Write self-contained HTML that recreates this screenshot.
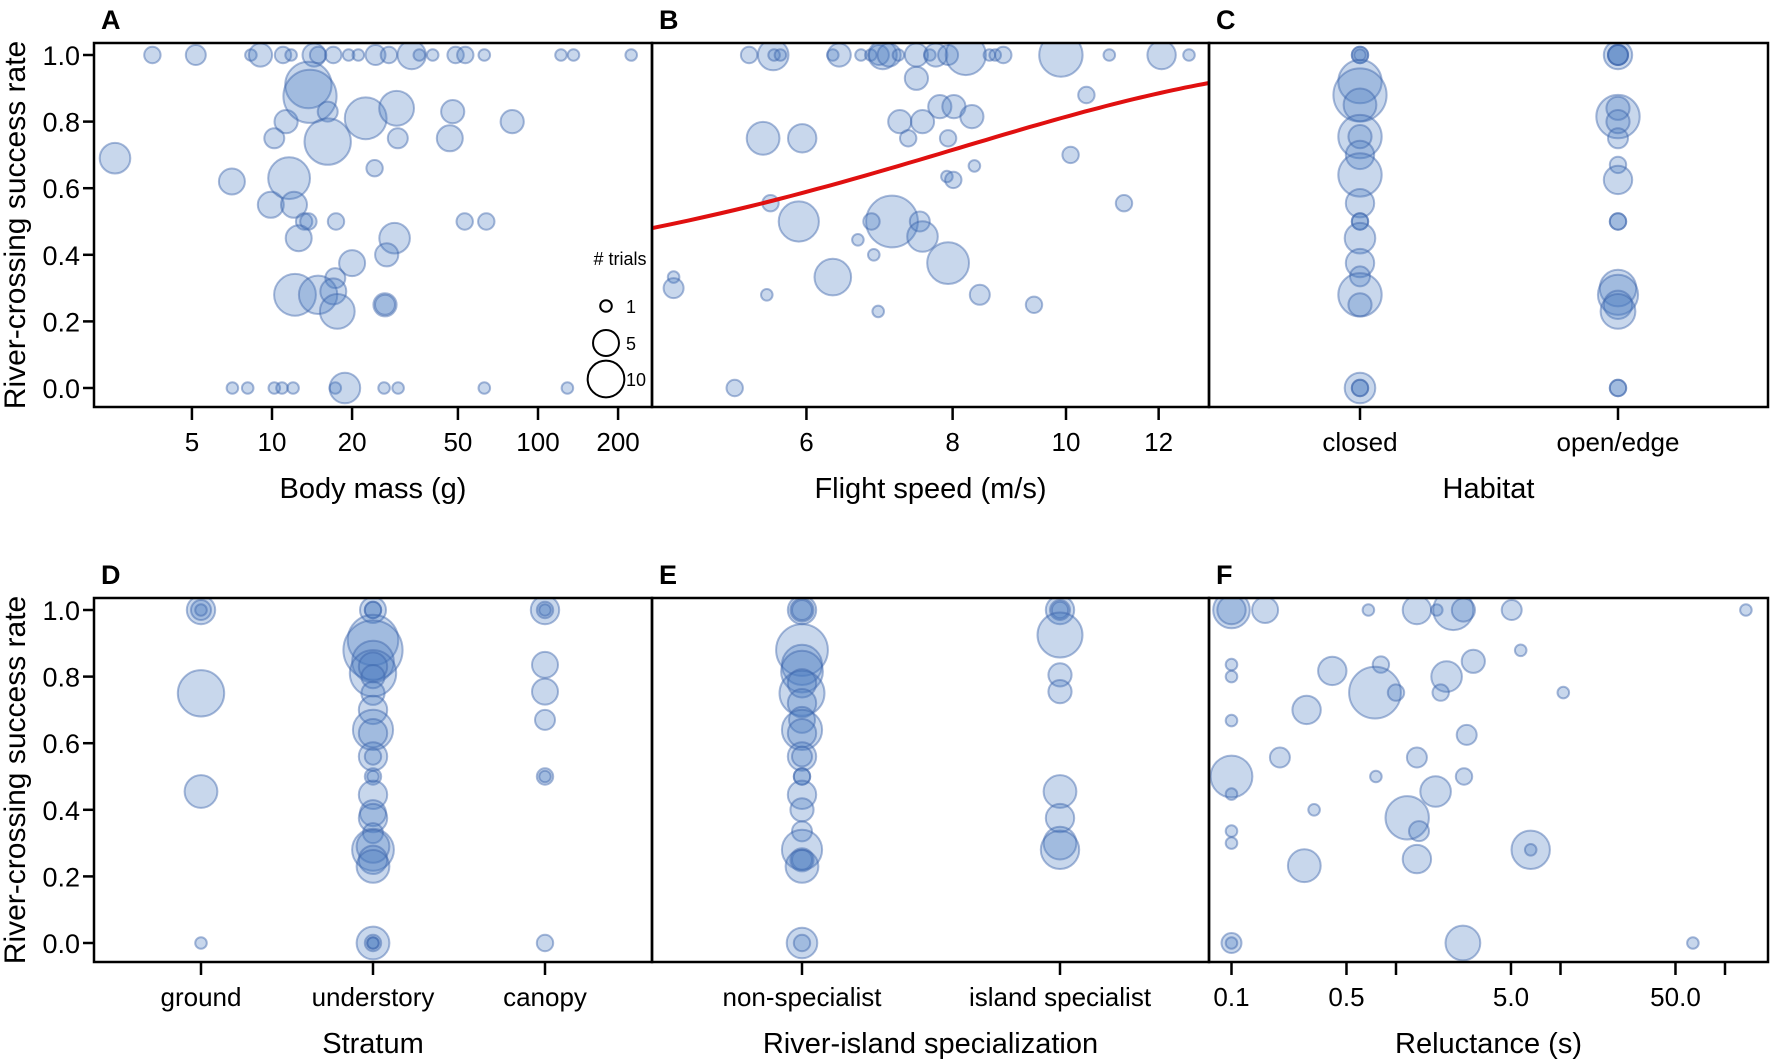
<!DOCTYPE html>
<html><head><meta charset="utf-8">
<style>
html,body{margin:0;padding:0;background:#fff;}
svg{display:block;font-family:"Liberation Sans",Arial,sans-serif;}
</style></head>
<body>
<svg id="chart" width="1772" height="1060" viewBox="0 0 1772 1060" xmlns="http://www.w3.org/2000/svg"></svg>
<script>
// ---------- data ----------
const yTicks = [0, 0.2, 0.4, 0.6, 0.8, 1.0];
const yTickLabels = ["0.0","0.2","0.4","0.6","0.8","1.0"];

// Panel A: body mass (g)
const aMass = [3.55,5.17,8.33,9.05,11.0,11.8,14.4,14.9,17.0,19.4,21.1,24.5,27.5,33.5,35.8,40.2,49,53.3,62.8,122,136,224,
  2.57,7.07,9.9,11.6,12.1,11.3,10.2,13.7,13.9,16.2,16.2,22.5,29.4,29.7,24.3,47.8,46.6,80,
  13.2,13.7,17.4,53,63.9,12.6,28.9,27,20,17.3,12.2,14.9,17,17.6,26.6,26.6,
  7.1,8.1,10.2,10.9,12,17.3,18.8,26.4,29.8,62.8,129];
const aRate = [1,1,1,1,1,1,1,1,1,1,1,1,1,1,1,1,1,1,1,1,1,1,
  0.69,0.62,0.55,0.63,0.55,0.80,0.75,0.91,0.876,0.83,0.74,0.81,0.84,0.75,0.66,0.83,0.75,0.80,
  0.5,0.5,0.5,0.5,0.5,0.45,0.45,0.4,0.375,0.33,0.28,0.28,0.29,0.23,0.25,0.25,
  0,0,0,0,0,0,0,0,0,0,0];
const aTrials = [2,3,1,4,2,1,4,2,2,1,1,3,2,6,1,1,2,2,1,1,1,1,
  7,5,5,13,5,4,3,16,21,3,16,13,9,3,2,4,5,4,
  2,2,2,2,2,5,7,4,5,3,13,11,5,9,4,3,
  1,1,1,1,1,1,7,1,1,1,1];

// Panel B: flight speed (m/s)
const bSpeed = [5.36,5.62,5.63,5.70,6.32,6.40,6.68,6.81,6.92,6.97,7.06,7.19,7.45,7.65,7.74,7.93,8.21,8.60,8.70,8.84,9.90,10.89,12.07,12.74,
  7.45,10.41,7.80,8.02,8.31,7.21,7.54,7.33,7.93,5.51,5.95,10.09,8.35,7.91,8.01,5.59,11.21,5.91,7.10,6.82,7.50,7.54,6.64,6.85,7.93,4.62,4.62,6.32,5.55,8.44,9.39,6.91,5.21];
const bRate = [1,1,1,1,1,1,1,1,1,1,1,1,1,1,1,1,1,1,1,1,1,1,1,1,
  0.93,0.88,0.845,0.845,0.815,0.80,0.80,0.75,0.75,0.75,0.75,0.70,0.667,0.635,0.625,0.555,0.555,0.50,0.50,0.50,0.50,0.455,0.445,0.40,0.375,0.333,0.30,0.333,0.28,0.28,0.25,0.23,0];
const bTrials = [2,7,1,1,1,4,1,1,3,6,4,1,4,1,4,3,12,1,1,2,14,1,6,1,
  4,2,4,4,4,4,4,2,2,8,6,2,1,1,2,2,2,12,20,2,3,7,1,1,13,1,3,10,1,3,2,1,2];

// Panel C: habitat
const cCats = ["closed","open/edge"];
const cCat = [0,0,0,0,0,0,0,0,0,0,0,0,0,0,0,0,0,0,0,0,0,
  1,1,1,1,1,1,1,1,1,1,1,1,1,1,1,1,1,1];
const cRate = [1,1,1,0.92,0.88,0.85,0.755,0.755,0.70,0.64,0.555,0.5,0.5,0.45,0.375,0.335,0.28,0.25,0,0,0,
  1,1,1,1,0.815,0.84,0.80,0.75,0.67,0.625,0.5,0.5,0.30,0.28,0.25,0.23,0,0];
const cTrials = [2,2,1,14,21,8,14,4,6,14,6,2,2,7,6,3,14,4,7,2,2,
  6,3,3,3,14,4,4,3,2,6,2,2,10,12,6,9,2,2];

// Panel D: stratum
const dCats = ["ground","understory","canopy"];
const dCat = [0,0,0,0,0,0,
  1,1,1,1,1,1,1,1,1,1,1,1,1,1,1,1,1,1,1,1,1,1,1,1,1,1,1,1,1,
  2,2,2,2,2,2,2,2,2];
const dRate = [1,1,1,0.75,0.455,0,
  1,1,1,0.91,0.88,0.845,0.81,0.83,0.80,0.75,0.70,0.64,0.63,0.56,0.56,0.5,0.5,0.445,0.39,0.375,0.33,0.28,0.29,0.25,0.23,0,0,0,0,
  1,1,1,0.835,0.755,0.67,0.5,0.5,0];
const dTrials = [6,3,1,16,8,1,
  5,2,2,19,26,13,16,6,4,4,6,12,6,6,2,2,1,6,5,6,3,13,8,6,8,8,2,1,1,
  6,2,1,5,5,3,2,1,2];

// Panel E: river-island specialization
const eCats = ["non-specialist","island specialist"];
const eCat = [0,0,0,0,0,0,0,0,0,0,0,0,0,0,0,0,0,0,0,0,0,0,0,0,0,
  1,1,1,1,1,1,1,1,1,1];
const eRate = [1,1,1,0.88,0.835,0.815,0.75,0.78,0.72,0.67,0.64,0.63,0.56,0.56,0.5,0.5,0.445,0.40,0.335,0.28,0.25,0.25,0.23,0,0,
  1,1,1,0.925,0.805,0.755,0.455,0.375,0.30,0.28];
const eTrials = [6,4,3,20,12,13,15,6,6,5,12,6,6,3,2,2,6,4,3,12,4,3,8,7,2,
  6,3,2,15,4,4,8,6,8,11];

// Panel F: reluctance (s)
const fRel = [0.1,0.1,0.16,0.68,1.34,1.77,2.23,2.57,5.05,134,
  0.1,0.1,0.41,0.81,0.745,1.0,2.03,1.87,2.95,5.73,10.4,0.286,0.1,2.69,0.1,0.1,0.197,0.755,1.34,2.59,1.74,0.318,1.17,1.38,0.1,0.1,6.59,6.59,1.34,0.277,
  0.1,0.1,2.55,63.8];
const fRate = [1,1,1,1,1,1,1,1,1,1,
  0.836,0.80,0.817,0.836,0.752,0.752,0.80,0.752,0.846,0.879,0.752,0.70,0.668,0.625,0.50,0.447,0.557,0.50,0.557,0.50,0.455,0.40,0.376,0.336,0.336,0.30,0.28,0.28,0.252,0.232,
  0,0,0,0];
const fTrials = [10,6,5,1,6,1,12,4,3,1,
  1,1,6,2,20,2,7,2,4,1,1,6,1,3,13,1,3,1,3,2,7,1,14,3,1,1,11,1,6,8,
  3,1,9,1];

const curveCoef = [-1.32, 0.28];

// ---------- layout ----------
const svg = document.getElementById('chart');
const NS = 'http://www.w3.org/2000/svg';
function mk(tag, attrs, parent){
  const e = document.createElementNS(NS, tag);
  for (const k in attrs) e.setAttribute(k, attrs[k]);
  (parent||svg).appendChild(e);
  return e;
}
const rows = [{top:43,bottom:407,y1:55,y0:388},{top:598,bottom:962,y1:610,y0:943}];
const cols = [{l:94,r:652},{l:652,r:1209},{l:1209,r:1768}];
function yS(row, v){ const R=rows[row]; return R.y0 + (R.y1-R.y0)*v; }
function rad(n){ return 5.8*Math.sqrt(n); }

const xA = v => 272 + 266*Math.log10(v/10);
const xB = v => 1066 + 1170*Math.log10(v/10);
const xC = i => [1360,1618][i];
const xD = i => [201,373,545][i];
const xE = i => [802,1060][i];
const xF = v => 1396 + 164.5*Math.log10(v);

function frame(row,col,letter,name){
  const R=rows[row], C=cols[col];
  const g = mk('g',{});
  
  
  const lt = mk('text',{x:C.l+7,y:R.top-14,'font-size':27,'font-weight':'bold',fill:'#000'},g);
  lt.textContent = letter;
  
  
  return g;
}
function clipFor(row,col,id){
  const R=rows[row], C=cols[col];
  const cp = mk('clipPath',{id:id});
  mk('rect',{x:C.l,y:R.top,width:C.r-C.l,height:R.bottom-R.top},cp);
  return 'url(#'+id+')';
}
function bubbles(g, clip, xs, ys, ns, xf, row, nm){
  const bg = mk('g',{'clip-path':clip},g);
  for (let i=0;i<xs.length;i++){
    const c = mk('circle',{cx:xf(xs[i]).toFixed(1),cy:yS(row,ys[i]).toFixed(1),r:rad(ns[i]).toFixed(1),
      fill:'rgba(72,122,192,0.3)',stroke:'rgba(60,100,170,0.45)','stroke-width':2},bg);
    
    
  }
}
function border(g,row,col){
  const R=rows[row], C=cols[col];
  const b = mk('rect',{x:C.l,y:R.top,width:C.r-C.l,height:R.bottom-R.top,fill:'none',stroke:'#000','stroke-width':2.5},g);
  
  
}
function yAxis(g,row){
  const R=rows[row];
  for (let i=0;i<yTicks.length;i++){
    const y=yS(row,yTicks[i]);
    mk('line',{x1:83,x2:94,y1:y,y2:y,stroke:'#000','stroke-width':2.5},g);
    const t=mk('text',{x:80,y:y+10,'font-size':27,'text-anchor':'end',fill:'#000'},g);
    t.textContent=yTickLabels[i];
    
    
  }
  const cy=(R.top+R.bottom)/2;
  const tt=mk('text',{x:0,y:0,'font-size':30,'text-anchor':'middle',fill:'#000',transform:'translate(25,'+cy+') rotate(-90)'},g);
  tt.textContent='River-crossing success rate';
  
  
}
function xTick(g,row,x,label){
  const R=rows[row];
  mk('line',{x1:x,x2:x,y1:R.bottom,y2:R.bottom+13,stroke:'#000','stroke-width':2.5},g);
  if (label!==null){
    const t=mk('text',{x:x,y:R.bottom+44,'font-size':26,'text-anchor':'middle',fill:'#000'},g);
    t.textContent=label;
    
    
  }
}
function xTitle(g,row,col,txt){
  const R=rows[row], C=cols[col];
  const t=mk('text',{x:(C.l+C.r)/2,y:R.bottom+91,'font-size':29,'text-anchor':'middle',fill:'#000'},g);
  t.textContent=txt;
  
  
}

// Panel A
let g = frame(0,0,'A','panel-body-mass');
bubbles(g, clipFor(0,0,'cA'), aMass, aRate, aTrials, xA, 0, 'mass');
border(g,0,0); yAxis(g,0);
[5,10,20,50,100,200].forEach(v=>xTick(g,0,xA(v),String(v)));
xTitle(g,0,0,'Body mass (g)');
// legend
const lg = mk('g',{});


const lt = mk('text',{x:620,y:265,'font-size':18,'text-anchor':'middle',fill:'#000'},lg);
lt.textContent='# trials';
[[1,306],[5,343],[10,379]].forEach(p=>{
  const c=mk('circle',{cx:606,cy:p[1],r:rad(p[0]),fill:'none',stroke:'#000','stroke-width':2},lg);
  
  
  const t=mk('text',{x:626,y:p[1]+7,'font-size':18,fill:'#000'},lg);
  t.textContent=String(p[0]);
  
  
});

// Panel B
g = frame(0,1,'B','panel-flight-speed');
const clipB = clipFor(0,1,'cB');
bubbles(g, clipB, bSpeed, bRate, bTrials, xB, 0, 'speed');
let pts=[];
for (let k=0;k<=60;k++){
  const v=4.3+(13.4-4.3)*k/60;
  const p=1/(1+Math.exp(-(curveCoef[0]+curveCoef[1]*v)));
  pts.push(xB(v).toFixed(1)+','+yS(0,p).toFixed(1));
}
const curve=mk('polyline',{points:pts.join(' '),fill:'none',stroke:'#e01010','stroke-width':4,'clip-path':clipB},g);


border(g,0,1);
[6,8,10,12].forEach(v=>xTick(g,0,xB(v),String(v)));
xTitle(g,0,1,'Flight speed (m/s)');

// Panel C
g = frame(0,2,'C','panel-habitat');
bubbles(g, clipFor(0,2,'cC'), cCat, cRate, cTrials, xC, 0, 'habitat');
border(g,0,2);
cCats.forEach((c,i)=>xTick(g,0,xC(i),c));
xTitle(g,0,2,'Habitat');

// Panel D
g = frame(1,0,'D','panel-stratum');
bubbles(g, clipFor(1,0,'cD'), dCat, dRate, dTrials, xD, 1, 'stratum');
border(g,1,0); yAxis(g,1);
dCats.forEach((c,i)=>xTick(g,1,xD(i),c));
xTitle(g,1,0,'Stratum');

// Panel E
g = frame(1,1,'E','panel-specialization');
bubbles(g, clipFor(1,1,'cE'), eCat, eRate, eTrials, xE, 1, 'specialization');
border(g,1,1);
eCats.forEach((c,i)=>xTick(g,1,xE(i),c));
xTitle(g,1,1,'River-island specialization');

// Panel F
g = frame(1,2,'F','panel-reluctance');
bubbles(g, clipFor(1,2,'cF'), fRel, fRate, fTrials, xF, 1, 'reluctance');
border(g,1,2);
[[0.1,'0.1'],[0.5,'0.5'],[1,null],[5,'5.0'],[10,null],[50,'50.0'],[100,null]].forEach(p=>xTick(g,1,xF(p[0]),p[1]));
xTitle(g,1,2,'Reluctance (s)');
</script>
</body></html>
